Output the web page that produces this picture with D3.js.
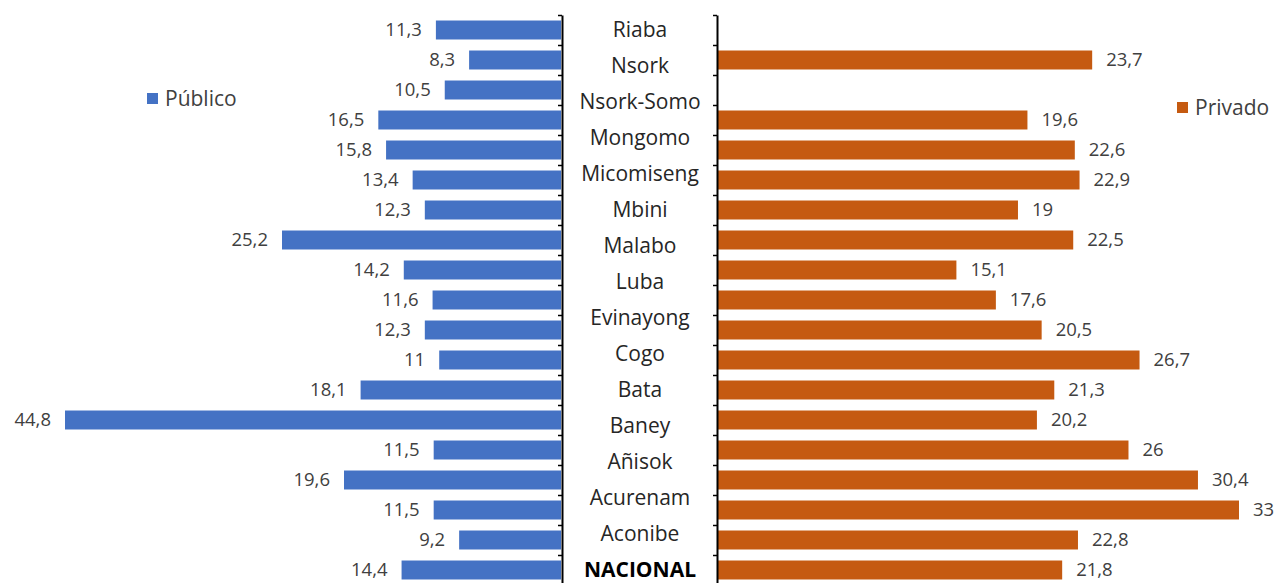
<!DOCTYPE html>
<html>
<head>
<meta charset="utf-8">
<style>
html, body { margin: 0; padding: 0; background: #fff; }
svg { display: block; font-family: "Open Sans", "Noto Sans", sans-serif; }
.axis path, .axis line { stroke: #000; }
.axis path { stroke-width: 2; }
.axis line { stroke-width: 1.5; }
.val { fill: #404040; font-size: 18.5px; }
.cat { fill: #262626; font-size: 21px; }
.leg { fill: #404040; font-size: 21px; }
</style>
</head>
<body>
<script src="https://cdnjs.cloudflare.com/ajax/libs/d3/7.8.5/d3.min.js"></script>
<script>
var width = 1275
var height = 583

// centre labels (as printed on the chart)
var categories = ['Riaba', 'Nsork', 'Nsork-Somo', 'Mongomo', 'Micomiseng', 'Mbini', 'Malabo',
    'Luba', 'Evinayong', 'Cogo', 'Bata', 'Baney', 'Añisok', 'Acurenam', 'Aconibe', 'NACIONAL']

// bar rows, top to bottom
var publico = [11.3, 8.3, 10.5, 16.5, 15.8, 13.4, 12.3, 25.2, 14.2, 11.6, 12.3, 11, 18.1, 44.8, 11.5, 19.6, 11.5, 9.2, 14.4]
var privado = [null, 23.7, null, 19.6, 22.6, 22.9, 19, 22.5, 15.1, 17.6, 20.5, 26.7, 21.3, 20.2, 26, 30.4, 33, 22.8, 21.8]

var rows = d3.range(publico.length)
var fmt = function (v) { return String(v).replace('.', ',') }

var svg = d3.select('body').append('svg')
    .attr('width', width)
    .attr('height', height)

var y = d3.scaleBand()
    .domain(rows)
    .range([15, 585])
    .paddingInner(0.367)
    .paddingOuter(0.1835)

var yEdge = d3.scaleLinear()
    .domain([0, rows.length])
    .range([15, 585])

var yCat = d3.scalePoint()
    .domain(categories)
    .range([30, 570])

var xLeft = d3.scaleLinear().domain([0, 44.8]).range([561, 65])
var xRight = d3.scaleLinear().domain([0, 33]).range([718, 1239])

// left side bars
svg.append('g').selectAll('rect')
    .data(rows)
    .join('rect')
    .attr('x', function (i) { return xLeft(publico[i]) })
    .attr('y', function (i) { return y(i) })
    .attr('width', function (i) { return xLeft(0) - xLeft(publico[i]) })
    .attr('height', y.bandwidth())
    .attr('fill', '#4472c4')

svg.append('g').selectAll('text')
    .data(rows)
    .join('text')
    .attr('class', 'val')
    .attr('x', function (i) { return xLeft(publico[i]) - 14 })
    .attr('y', function (i) { return y(i) + y.bandwidth() / 2 })
    .attr('dy', '0.35em')
    .attr('text-anchor', 'end')
    .text(function (i) { return fmt(publico[i]) })

// right side bars
var rightRows = rows.filter(function (i) { return privado[i] != null })

svg.append('g').selectAll('rect')
    .data(rightRows)
    .join('rect')
    .attr('x', xRight(0))
    .attr('y', function (i) { return y(i) })
    .attr('width', function (i) { return xRight(privado[i]) - xRight(0) })
    .attr('height', y.bandwidth())
    .attr('fill', '#c55a11')

svg.append('g').selectAll('text')
    .data(rightRows)
    .join('text')
    .attr('class', 'val')
    .attr('x', function (i) { return xRight(privado[i]) + 14 })
    .attr('y', function (i) { return y(i) + y.bandwidth() / 2 })
    .attr('dy', '0.35em')
    .text(function (i) { return fmt(privado[i]) })

// axes
var axis = d3.axisLeft(yEdge)
    .tickValues(d3.range(rows.length + 1))
    .tickSize(4)
    .tickSizeOuter(0)
    .tickFormat('')

svg.append('g').attr('class', 'axis')
    .attr('transform', 'translate(562,0)')
    .call(axis)

svg.append('g').attr('class', 'axis')
    .attr('transform', 'translate(717,0)')
    .call(axis)

// centre category labels
svg.append('g').selectAll('text')
    .data(categories)
    .join('text')
    .attr('class', 'cat')
    .attr('x', 640)
    .attr('y', function (d) { return yCat(d) })
    .attr('dy', '0.35em')
    .attr('text-anchor', 'middle')
    .style('font-weight', function (d) { return d === 'NACIONAL' ? 'bold' : null })
    .style('fill', function (d) { return d === 'NACIONAL' ? '#000' : null })
    .text(function (d) { return d })

// legends
var legend = [
    { name: 'Público', color: '#4472c4', x: 147, y: 93 },
    { name: 'Privado', color: '#c55a11', x: 1177, y: 102 }
]

var lg = svg.append('g').selectAll('g')
    .data(legend)
    .join('g')
    .attr('transform', function (d) { return 'translate(' + d.x + ',' + d.y + ')' })

lg.append('rect')
    .attr('width', 11)
    .attr('height', 11)
    .attr('fill', function (d) { return d.color })

lg.append('text')
    .attr('class', 'leg')
    .attr('x', 18)
    .attr('y', 5.5)
    .attr('dy', '0.35em')
    .text(function (d) { return d.name })
</script>
</body>
</html>
